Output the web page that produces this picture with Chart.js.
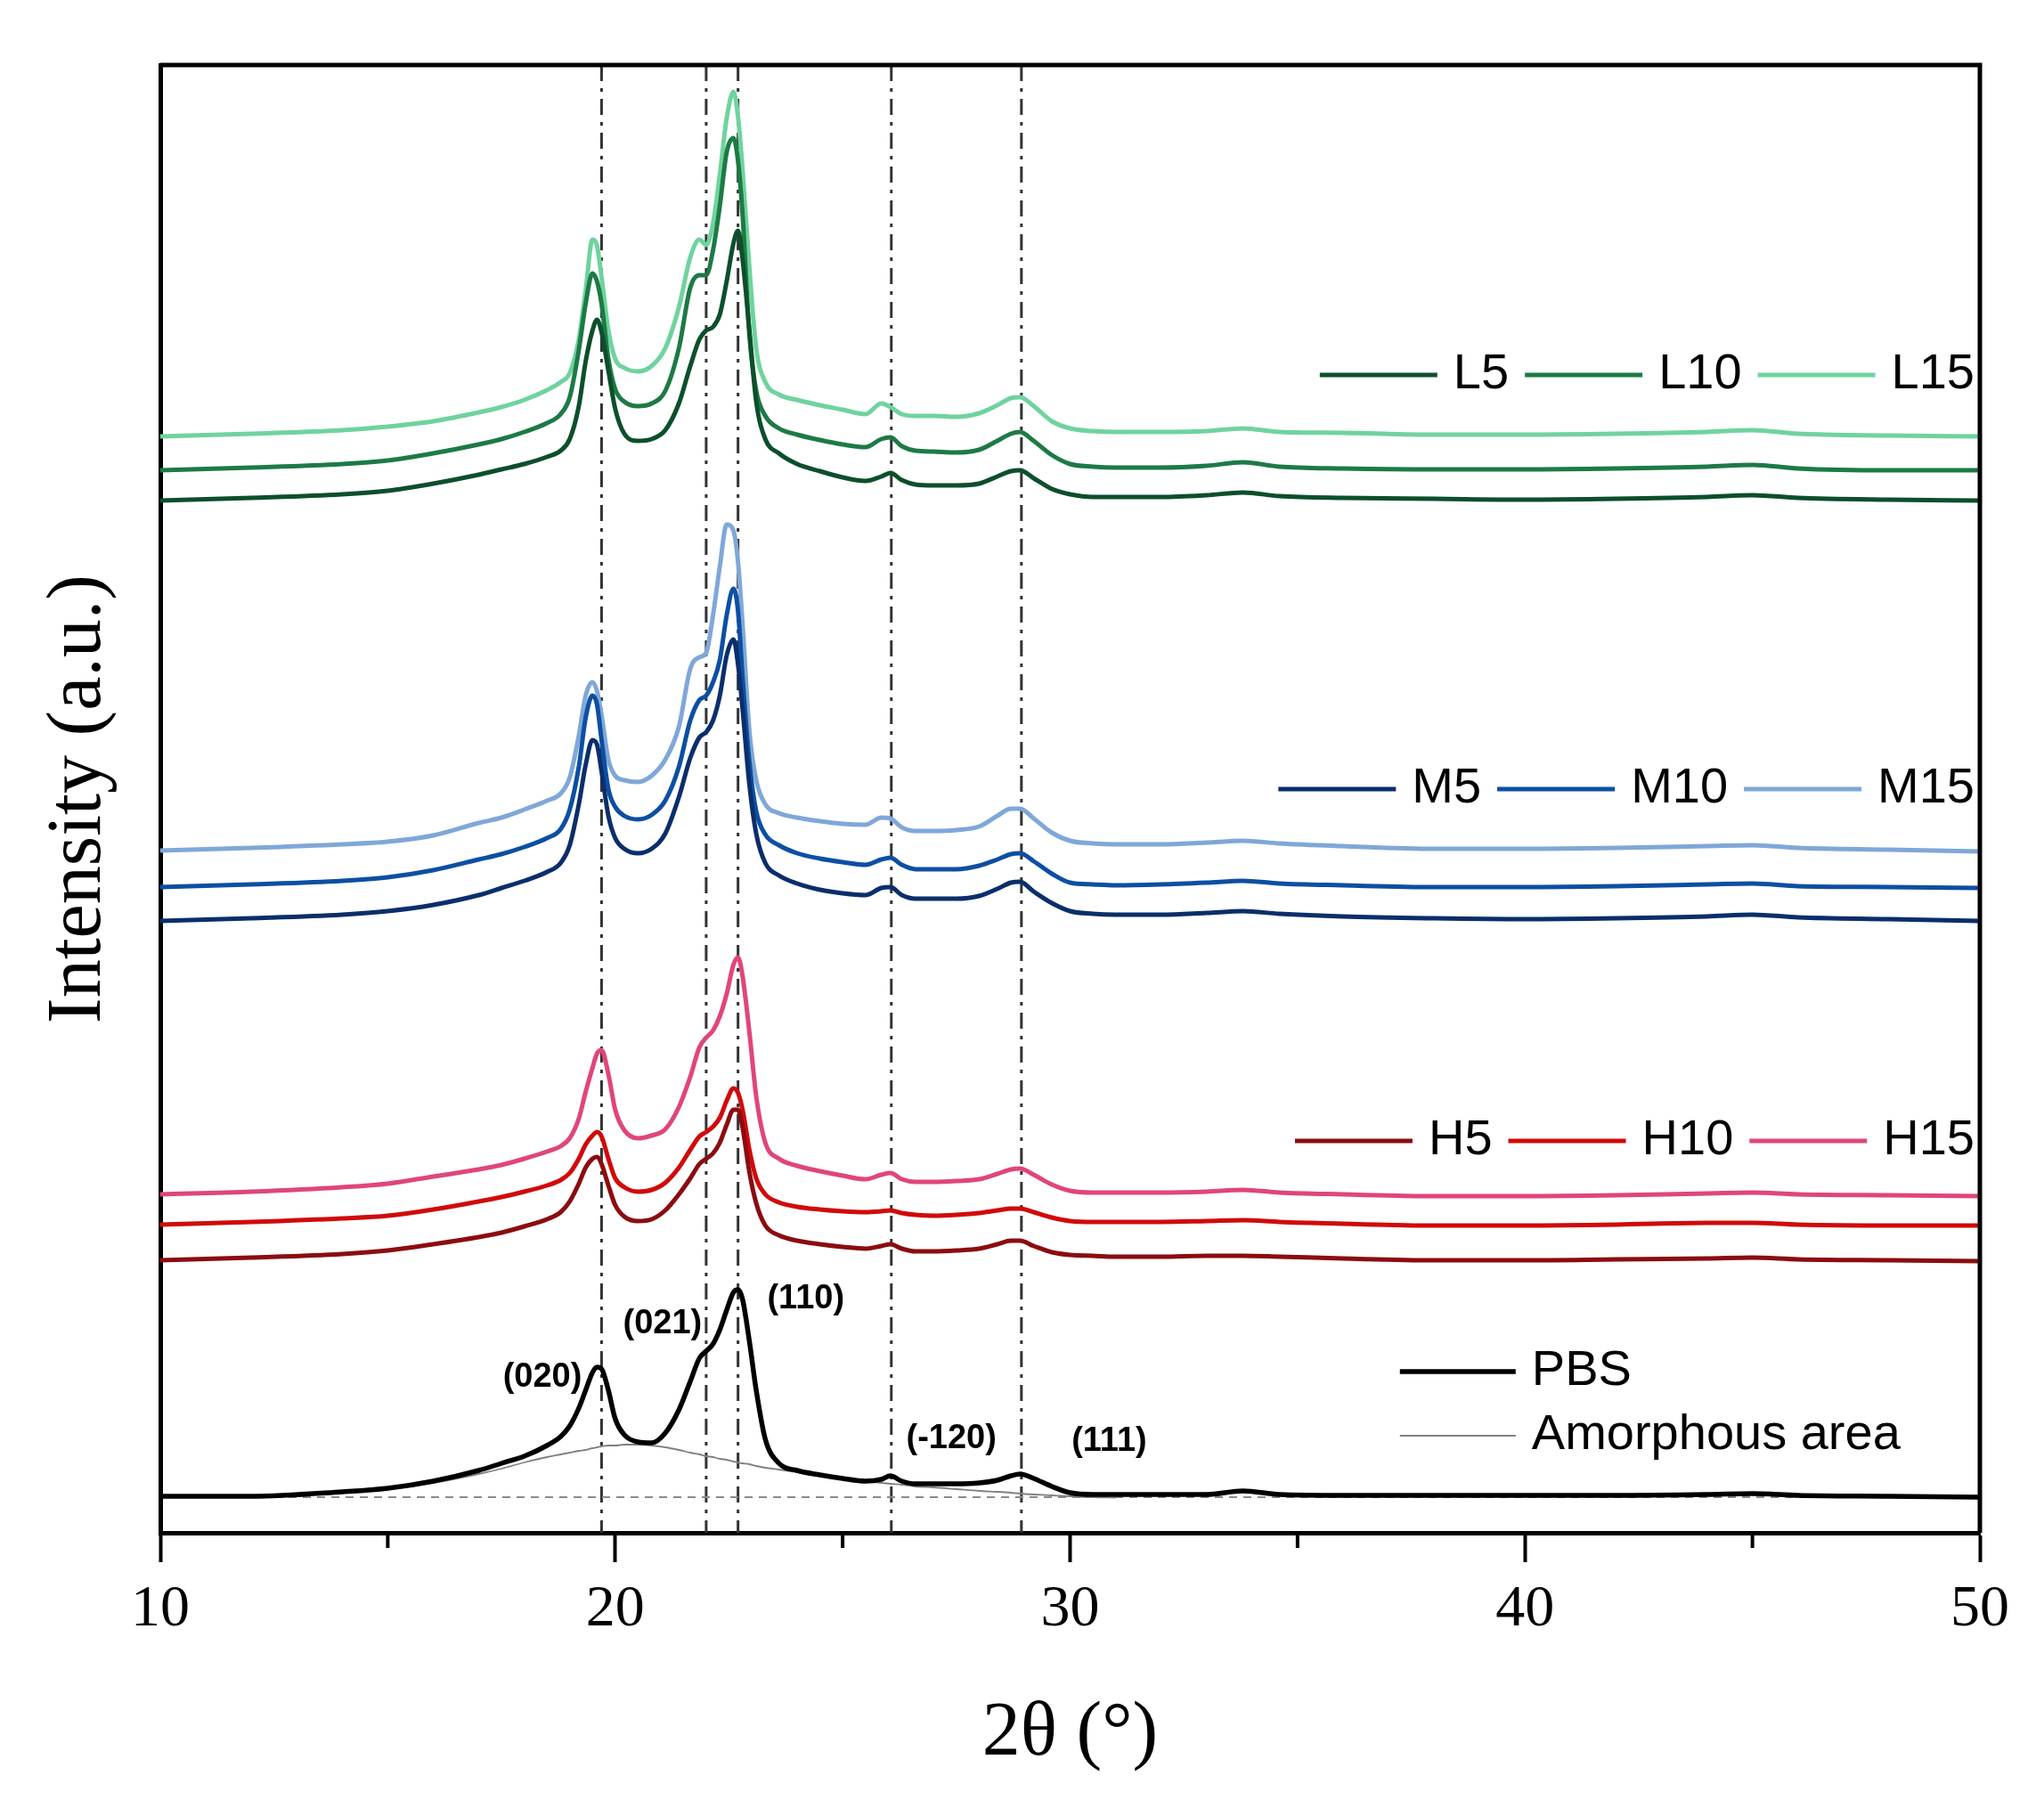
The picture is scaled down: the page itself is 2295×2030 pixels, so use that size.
<!DOCTYPE html>
<html>
<head>
<meta charset="utf-8">
<script src="https://cdn.jsdelivr.net/npm/chart.js@4.4.1/dist/chart.umd.min.js"></script>
<style>
  html, body { margin: 0; padding: 0; background: #fff; }
  #wrap { width: 2295px; height: 2030px; position: relative; }
</style>
</head>
<body>
<div id="wrap"><canvas id="xrd"></canvas></div>
<script>
// 2θ grid shared by every pattern (degrees)
const twoTheta = [10, 12, 14, 15, 16, 17, 17.5, 18, 18.5, 18.8,
  19.0, 19.2, 19.35, 19.5, 19.6, 19.7, 19.85, 20.0, 20.2, 20.5,
  20.8, 21.1, 21.4, 21.65, 21.85, 22.0, 22.15, 22.3, 22.45, 22.6,
  22.7, 22.8, 22.95, 23.1, 23.3, 23.6, 24.0, 24.5, 25.0, 25.5,
  25.85, 26.05, 26.3, 26.6, 27.0, 27.5, 28.0, 28.4, 28.7, 28.9,
  29.2, 29.6, 30.0, 30.5, 31.0, 32, 33, 33.8, 34.6, 36,
  38, 40, 42, 44, 45, 46, 48, 50];

// intensities (a.u., patterns stacked with offsets as in the figure)
const pbs = [41, 41, 46, 50, 58, 70, 78, 86, 98, 108,
  120, 140, 160, 180, 186, 184, 160, 128, 110, 102,
  101, 112, 138, 170, 196, 204, 212, 228, 250, 270,
  273, 262, 215, 160, 105, 78, 70, 65, 61, 58,
  60, 64, 58, 55, 55, 55, 56, 59, 64, 66,
  61, 52, 45, 43, 43, 43, 43, 47, 43, 42,
  42, 42, 42, 43, 44, 42, 41, 40];

const amorphous = [40, 41, 45, 49, 56, 66, 72, 79, 85, 88,
  90, 92, 93, 95, 96, 97, 98, 98, 99, 99,
  98, 96, 93, 90, 88, 86, 85, 83, 82, 80,
  79, 78, 77, 75, 73, 71, 68, 64, 61, 58,
  56, 55, 54, 52, 51, 49, 47, 46, 45, 44,
  43, 42, 41, 40, 39.5, null, null, null, null, null,
  null, null, null, null, null, null, null, null];

const h5 = [306, 309, 313, 317, 324, 332, 337, 344, 352, 360,
  372, 392, 410, 420, 422, 414, 390, 368, 355, 350,
  352, 362, 380, 398, 414, 420, 426, 438, 458, 475,
  475, 455, 405, 370, 345, 334, 328, 324, 321, 319,
  322, 324, 319, 316, 316, 317, 319, 324, 328, 328,
  322, 315, 312, 311, 310, 310, 311, 311, 310, 308,
  306, 306, 307, 308, 309, 307, 306, 305];

const h10 = [346, 349, 353, 356, 363, 372, 377, 383, 390, 396,
  404, 420, 436, 446, 450, 445, 420, 398, 388, 383,
  385, 393, 410, 430, 445, 450, 456, 466, 485, 499,
  494, 475, 430, 398, 380, 371, 366, 363, 361, 360,
  361, 362, 359, 357, 356, 357, 359, 362, 364, 364,
  360, 354, 350, 349, 349, 349, 350, 351, 349, 347,
  345, 345, 346, 348, 348, 346, 345, 345];

const h15 = [380, 383, 388, 392, 400, 408, 413, 420, 428, 434,
  443, 465, 495, 522, 538, 542, 515, 475, 452, 443,
  446, 453, 478, 512, 545, 556, 564, 580, 605, 638,
  646, 625, 562, 490, 438, 420, 412, 406, 401, 397,
  402, 404, 397, 394, 394, 395, 397, 403, 408, 409,
  402, 391, 384, 382, 382, 382, 383, 385, 382, 380,
  378, 378, 379, 381, 382, 380, 379, 378];

const m5 = [687, 690, 694, 698, 705, 716, 724, 732, 742, 752,
  772, 818, 862, 890, 885, 855, 805, 780, 768, 763,
  768, 785, 826, 870, 893, 899, 912, 940, 985, 1003,
  975, 925, 840, 785, 752, 738, 729, 722, 718, 716,
  724, 725, 716, 712, 712, 712, 715, 723, 730, 731,
  720, 707, 698, 695, 694, 694, 696, 698, 695, 692,
  690, 689, 690, 692, 694, 691, 689, 687];

const m10 = [725, 728, 732, 736, 744, 756, 762, 770, 780, 790,
  812, 860, 915, 940, 930, 890, 835, 815, 805, 801,
  806, 822, 860, 912, 935, 940, 955, 980, 1030, 1060,
  1035, 960, 865, 810, 784, 772, 763, 757, 753, 750,
  756, 758, 750, 745, 745, 745, 749, 756, 762, 763,
  754, 740, 730, 728, 727, 728, 730, 732, 729, 727,
  725, 725, 726, 728, 729, 726, 725, 724];

const m15 = [766, 769, 773, 776, 783, 797, 803, 812, 822, 830,
  848, 895, 940, 955, 945, 918, 868, 850, 845, 843,
  850, 868, 905, 970, 983, 988, 1030, 1085, 1132, 1125,
  1090, 1020, 900, 845, 818, 808, 803, 799, 796, 795,
  803, 802, 792, 788, 788, 789, 793, 805, 813, 813,
  802, 786, 777, 774, 773, 773, 775, 777, 774, 771,
  768, 768, 769, 771, 772, 769, 767, 765];

const l5 = [1159, 1162, 1166, 1170, 1178, 1188, 1194, 1200, 1208, 1215,
  1228, 1265, 1315, 1350, 1362, 1348, 1305, 1262, 1234, 1226,
  1228, 1238, 1268, 1310, 1340, 1350, 1354, 1368, 1405, 1448,
  1462, 1430, 1350, 1270, 1228, 1212, 1200, 1192, 1185, 1181,
  1186, 1190, 1182, 1177, 1176, 1176, 1178, 1186, 1192, 1193,
  1184, 1172, 1166, 1163, 1163, 1163, 1165, 1168, 1164, 1162,
  1161, 1160, 1161, 1163, 1165, 1162, 1160, 1159];

const l10 = [1193, 1196, 1200, 1204, 1212, 1222, 1228, 1236, 1246, 1256,
  1275, 1328, 1380, 1414, 1405, 1380, 1318, 1284, 1270, 1265,
  1268, 1282, 1330, 1398, 1412, 1412, 1440, 1490, 1550, 1566,
  1540, 1480, 1345, 1282, 1254, 1240, 1233, 1227, 1222, 1219,
  1228, 1230, 1220, 1215, 1214, 1213, 1216, 1226, 1234, 1236,
  1226, 1210, 1200, 1197, 1196, 1196, 1198, 1202, 1197, 1195,
  1194, 1194, 1195, 1197, 1199, 1195, 1193, 1193];

const l15 = [1231, 1234, 1238, 1242, 1248, 1258, 1264, 1272, 1283, 1292,
  1302, 1340, 1395, 1452, 1445, 1410, 1350, 1318, 1308, 1304,
  1310, 1330, 1376, 1432, 1452, 1446, 1470, 1525, 1588, 1618,
  1590, 1530, 1420, 1330, 1292, 1278, 1272, 1266, 1261, 1256,
  1268, 1264, 1256, 1254, 1254, 1253, 1257, 1266, 1274, 1275,
  1265, 1248, 1240, 1237, 1236, 1236, 1237, 1240, 1236, 1235,
  1233, 1233, 1234, 1236, 1238, 1234, 1232, 1231];

// crystal planes of PBS: reference line positions and their labels
const planeLines = [19.7, 22.0, 22.7, 26.07, 28.93];
const planeLabels = ['(020)', '(021)', '(110)', '(-120)', '(111)'];
const planeLabelX = [18.4, 21.04, 24.19, 27.39, 30.86];
const planeLabelY = [174, 234, 262, 105, 102];
const pbsBaseline = 40;

const xTicks = [10, 20, 30, 40, 50];
const xMinorTicks = [15, 25, 35, 45];

const SERIF = '"Liberation Serif", "Times New Roman", serif';
const SANS = '"Liberation Sans", Arial, sans-serif';

function toXY(values) {
  return twoTheta.map((t, i) => ({ x: t, y: values[i] }));
}

const patterns = [
  { label: 'PBS', data: pbs, color: '#000000', width: 5.5 },
  { label: 'Amorphous area', data: amorphous, color: '#808080', width: 1.8 },
  { label: 'H5', data: h5, color: '#8b0c10', width: 5 },
  { label: 'H10', data: h10, color: '#d10a0a', width: 5 },
  { label: 'H15', data: h15, color: '#e0457c', width: 5 },
  { label: 'M5', data: m5, color: '#0b2e6b', width: 5 },
  { label: 'M10', data: m10, color: '#0c4fa3', width: 5 },
  { label: 'M15', data: m15, color: '#7fa7d8', width: 5 },
  { label: 'L5', data: l5, color: '#0c4f2b', width: 5 },
  { label: 'L10', data: l10, color: '#1d7a45', width: 5 },
  { label: 'L15', data: l15, color: '#6fd39e', width: 5 },
];

const colorOf = {};
patterns.forEach(p => { colorOf[p.label] = p; });

function drawLegendRow(ctx, names, rightX, cy) {
  const seg = 132, gap = 18;
  ctx.font = '56px ' + SANS;
  let total = 0;
  names.forEach((n, i) => {
    total += seg + gap + ctx.measureText(n).width + (i < names.length - 1 ? gap : 0);
  });
  let x0 = rightX - total;
  names.forEach(n => {
    const p = colorOf[n];
    ctx.strokeStyle = p.color;
    ctx.lineWidth = p.width;
    ctx.beginPath();
    ctx.moveTo(x0, cy);
    ctx.lineTo(x0 + seg, cy);
    ctx.stroke();
    x0 += seg + gap;
    ctx.fillStyle = '#000';
    ctx.textAlign = 'left';
    ctx.textBaseline = 'middle';
    ctx.fillText(n, x0, cy);
    x0 += ctx.measureText(n).width + gap;
  });
}

const decorations = {
  id: 'decorations',
  beforeDatasetsDraw(chart) {
    const { ctx, chartArea: a, scales: { x, y } } = chart;
    ctx.save();
    // dash-dot lines through the PBS reflections
    ctx.strokeStyle = '#333333';
    ctx.lineWidth = 3;
    ctx.setLineDash([18, 8, 4, 8]);
    planeLines.forEach(t => {
      const px = x.getPixelForValue(t);
      ctx.beginPath();
      ctx.moveTo(px, a.top);
      ctx.lineTo(px, a.bottom);
      ctx.stroke();
    });
    // dashed baseline under PBS
    ctx.strokeStyle = '#8a8a8a';
    ctx.lineWidth = 2.2;
    ctx.setLineDash([9, 7]);
    const by = y.getPixelForValue(pbsBaseline);
    ctx.beginPath();
    ctx.moveTo(a.left, by);
    ctx.lineTo(a.right, by);
    ctx.stroke();
    ctx.restore();
  },
  afterDraw(chart) {
    const { ctx, chartArea: a, scales: { x, y } } = chart;
    ctx.save();
    // top and right frame
    ctx.strokeStyle = '#000';
    ctx.lineWidth = 5;
    ctx.beginPath();
    ctx.moveTo(a.left, a.top);
    ctx.lineTo(a.right, a.top);
    ctx.lineTo(a.right, a.bottom);
    ctx.stroke();
    // minor ticks
    ctx.lineWidth = 4;
    xMinorTicks.forEach(t => {
      const px = x.getPixelForValue(t);
      ctx.beginPath();
      ctx.moveTo(px, a.bottom);
      ctx.lineTo(px, a.bottom + 17);
      ctx.stroke();
    });
    // plane labels
    ctx.font = 'bold 38px ' + SANS;
    ctx.fillStyle = '#000';
    ctx.textAlign = 'center';
    ctx.textBaseline = 'middle';
    planeLabels.forEach((txt, i) => {
      ctx.fillText(txt, x.getPixelForValue(planeLabelX[i]), y.getPixelForValue(planeLabelY[i]));
    });
    // legends
    const rx = a.right - 6;
    drawLegendRow(ctx, ['L5', 'L10', 'L15'], rx, y.getPixelForValue(1300));
    drawLegendRow(ctx, ['M5', 'M10', 'M15'], rx, y.getPixelForValue(835));
    drawLegendRow(ctx, ['H5', 'H10', 'H15'], rx, y.getPixelForValue(440));
    const lx = x.getPixelForValue(37.25);
    [['PBS', 181], ['Amorphous area', 109]].forEach(([n, v]) => {
      const p = colorOf[n];
      const cy = y.getPixelForValue(v);
      ctx.strokeStyle = p.color;
      ctx.lineWidth = p.width;
      ctx.beginPath();
      ctx.moveTo(lx, cy);
      ctx.lineTo(lx + 130, cy);
      ctx.stroke();
      ctx.font = '56px ' + SANS;
      ctx.textAlign = 'left';
      ctx.fillText(n, lx + 148, cy);
    });
    ctx.restore();
  }
};

new Chart(document.getElementById('xrd'), {
  type: 'line',
  data: {
    datasets: patterns.map(p => ({
      label: p.label,
      data: toXY(p.data),
      borderColor: p.color,
      borderWidth: p.width,
      pointRadius: 0,
      fill: false,
      cubicInterpolationMode: 'monotone',
    })),
  },
  options: {
    responsive: true,
    maintainAspectRatio: false,
    animation: false,
    layout: { padding: { top: 73, right: 72, left: 0, bottom: 0 } },
    plugins: { legend: { display: false }, tooltip: { enabled: false } },
    scales: {
      x: {
        type: 'linear',
        min: 10,
        max: 50,
        afterBuildTicks: scale => { scale.ticks = xTicks.map(v => ({ value: v })); },
        afterFit: scale => { scale.height = 309; },
        border: { display: true, width: 5, color: '#000' },
        grid: { drawOnChartArea: false, drawTicks: true, tickLength: 33, tickWidth: 4, tickColor: '#000' },
        ticks: { color: '#000', padding: 14, maxRotation: 0, font: { family: SERIF, size: 66 } },
        title: { display: true, text: '2θ (°)', color: '#000', padding: { top: 0, bottom: 31 }, font: { family: SERIF, size: 86 } },
      },
      y: {
        min: 0,
        max: 1648,
        afterFit: scale => { scale.width = 180; },
        border: { display: true, width: 5, color: '#000' },
        grid: { display: false },
        ticks: { display: false },
        title: { display: true, text: 'Intensity (a.u.)', color: '#000', padding: { top: 38, bottom: 0 }, font: { family: SERIF, size: 86 } },
      },
    },
  },
  plugins: [decorations],
});
</script>
</body>
</html>
